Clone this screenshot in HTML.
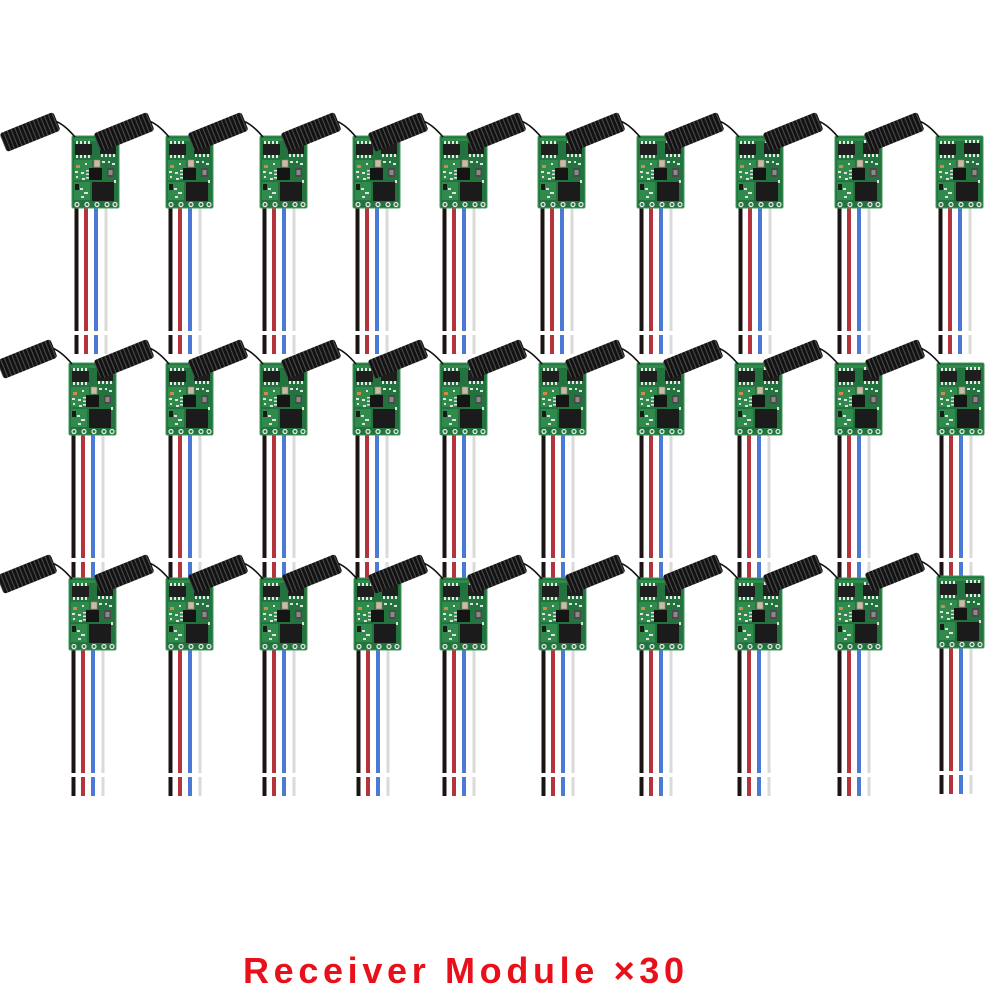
<!DOCTYPE html>
<html>
<head>
<meta charset="utf-8">
<style>
  html,body{margin:0;padding:0;background:#fff;}
  body{width:1000px;height:1000px;overflow:hidden;}
  svg{display:block;}
</style>
</head>
<body>
<svg width="1000" height="1000" viewBox="0 0 1000 1000" xmlns="http://www.w3.org/2000/svg">
  <defs>
    <pattern id="sp" patternUnits="userSpaceOnUse" x="0" y="0" width="4" height="40">
      <rect x="0" y="0" width="4" height="40" fill="#121212"/>
      <rect x="2.9" y="0" width="0.9" height="40" fill="#575757"/>
    </pattern>

    <g id="pcb">
      <rect x="0" y="0" width="47" height="72" rx="1.5" fill="#23733e" stroke="#3f9a5a" stroke-width="1"/>
      <g fill="#2f8a4c">
        <rect x="2" y="2" width="43" height="3"/>
        <rect x="2" y="24" width="18" height="20"/>
        <rect x="2" y="46" width="16" height="18"/>
      </g>
      <g fill="#e6e6e6">
        <rect x="4" y="5" width="2" height="3"/><rect x="8" y="5" width="2" height="3"/><rect x="12" y="5" width="2" height="3"/><rect x="16" y="5" width="2" height="3"/>
        <rect x="4" y="19" width="2" height="3"/><rect x="8" y="19" width="2" height="3"/><rect x="12" y="19" width="2" height="3"/><rect x="16" y="19" width="2" height="3"/>
        <rect x="29" y="4" width="2" height="3"/><rect x="33" y="4" width="2" height="3"/><rect x="37" y="4" width="2" height="3"/><rect x="41" y="4" width="2" height="3"/>
        <rect x="29" y="18" width="2" height="3"/><rect x="33" y="18" width="2" height="3"/><rect x="37" y="18" width="2" height="3"/><rect x="41" y="18" width="2" height="3"/>
      </g>
      <rect x="3" y="8" width="17" height="11" fill="#1e1e1e"/>
      <rect x="28" y="7" width="16" height="11" fill="#1e1e1e"/>
      <rect x="22" y="24" width="6" height="7" fill="#cbbba6" stroke="#8a8070" stroke-width="0.6"/>
      <rect x="4" y="29" width="4" height="3" fill="#d08a4a"/>
      <g fill="#e0e0e0">
        <rect x="3" y="35" width="3" height="2"/><rect x="9" y="36" width="3" height="2"/>
        <rect x="4" y="40" width="2" height="2"/><rect x="10" y="42" width="3" height="2"/>
        <rect x="30" y="25" width="3" height="2"/><rect x="36" y="25" width="2" height="2"/>
        <rect x="40" y="27" width="3" height="2"/><rect x="13" y="27" width="2" height="2"/>
        <rect x="8" y="52" width="3" height="2"/><rect x="12" y="56" width="4" height="2"/>
        <rect x="9" y="60" width="3" height="2"/><rect x="42" y="44" width="2" height="3"/>
        <rect x="14" y="34" width="3" height="1.5"/><rect x="14" y="37.5" width="3" height="1.5"/><rect x="14" y="41" width="3" height="1.5"/>
      </g>
      <rect x="17" y="32" width="13" height="12" fill="#151515"/>
      <rect x="35" y="32" width="7" height="9" fill="#4a4a4a"/>
      <rect x="36.5" y="34" width="4" height="5" fill="#8a8a8a"/>
      <rect x="3" y="48" width="4" height="6" fill="#1a1a1a"/>
      <rect x="20" y="46" width="22" height="19" fill="#1b1b1b"/>
      <g fill="none" stroke="#ececec" stroke-width="1.2">
        <circle cx="5" cy="68.5" r="2"/><circle cx="15" cy="68.5" r="2"/><circle cx="25" cy="68.5" r="2"/><circle cx="35" cy="68.5" r="2"/><circle cx="43" cy="68.5" r="2"/>
      </g>
    </g>

    <g id="m">
      <rect x="2.5" y="70" width="4" height="125" fill="#1c1414"/>
      <rect x="12" y="70" width="4" height="125" fill="#b5333b"/>
      <rect x="22" y="70" width="4" height="125" fill="#4a7ad6"/>
      <rect x="32.5" y="70" width="3" height="125" fill="#dadada"/>
      <rect x="2.5" y="199" width="4" height="19" fill="#1c1414"/>
      <rect x="12" y="199" width="4" height="19" fill="#b5333b"/>
      <rect x="22" y="199" width="4" height="19" fill="#4a7ad6"/>
      <rect x="32.5" y="199" width="3" height="19" fill="#dadada"/>
      <use href="#pcb"/>
      <path d="M -17,-15 Q -8,-12 3,1" fill="none" stroke="#111" stroke-width="1.6"/>
      <g transform="translate(-42,-4) rotate(-22)">
        <rect x="-29" y="-10" width="58" height="20" rx="3" fill="url(#sp)"/>
      </g>
    </g>
  </defs>

  <use href="#m" x="72" y="136"/>
  <use href="#m" x="166" y="136"/>
  <use href="#m" x="260" y="136"/>
  <use href="#m" x="353" y="136"/>
  <use href="#m" x="440" y="136"/>
  <use href="#m" x="538" y="136"/>
  <use href="#m" x="637" y="136"/>
  <use href="#m" x="736" y="136"/>
  <use href="#m" x="835" y="136"/>
  <use href="#m" x="936" y="136"/>

  <use href="#m" x="69" y="363"/>
  <use href="#m" x="166" y="363"/>
  <use href="#m" x="260" y="363"/>
  <use href="#m" x="353" y="363"/>
  <use href="#m" x="440" y="363"/>
  <use href="#m" x="539" y="363"/>
  <use href="#m" x="637" y="363"/>
  <use href="#m" x="735" y="363"/>
  <use href="#m" x="835" y="363"/>
  <use href="#m" x="937" y="363"/>

  <use href="#m" x="69" y="578"/>
  <use href="#m" x="166" y="578"/>
  <use href="#m" x="260" y="578"/>
  <use href="#m" x="354" y="578"/>
  <use href="#m" x="440" y="578"/>
  <use href="#m" x="539" y="578"/>
  <use href="#m" x="637" y="578"/>
  <use href="#m" x="735" y="578"/>
  <use href="#m" x="835" y="578"/>
  <use href="#m" x="937" y="576"/>

  <text x="243" y="983" font-family="'Liberation Sans', Arial, sans-serif" font-weight="bold" font-size="36" fill="#e8101a" textLength="441" lengthAdjust="spacing">Receiver Module ×30</text>
</svg>
</body>
</html>
